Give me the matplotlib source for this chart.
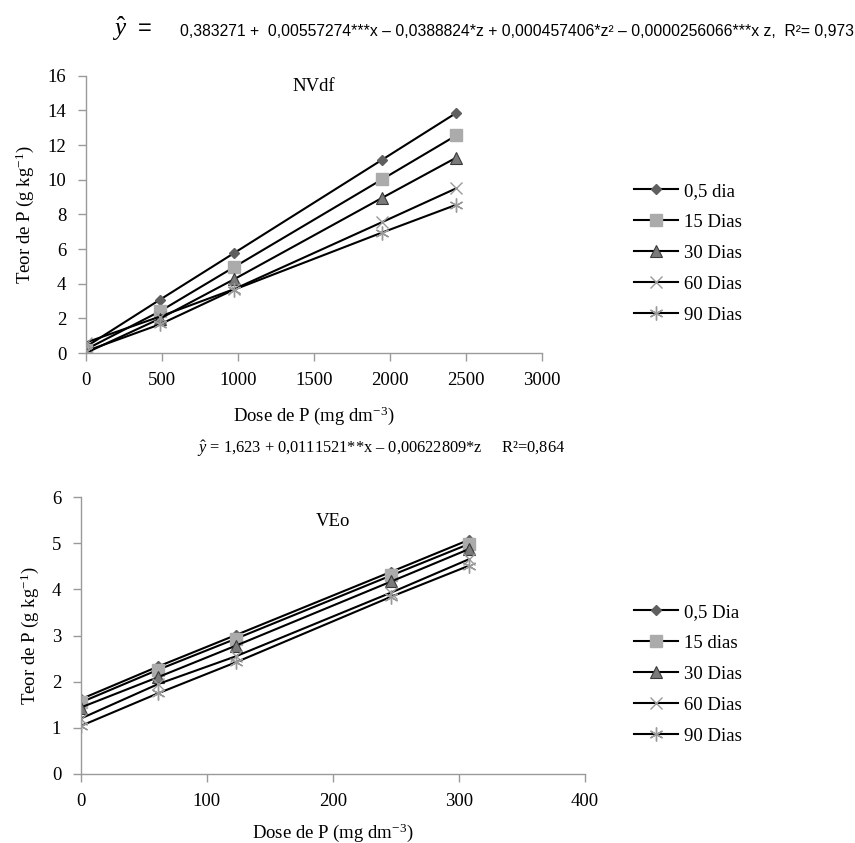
import matplotlib
matplotlib.use("Agg")
import matplotlib.pyplot as plt
from matplotlib.lines import Line2D

plt.rcParams["mathtext.fontset"] = "custom"
plt.rcParams["mathtext.rm"] = "Liberation Serif"
plt.rcParams["mathtext.it"] = "Liberation Serif:italic"
plt.rcParams["mathtext.default"] = "regular"

# ---- data ----
series_top = ["0,5 dia", "15 Dias", "30 Dias", "60 Dias", "90 Dias"]
x_top = [0, 487.5, 975, 1950, 2437.5]
y_top_05 = [0.35, 3.07, 5.76, 11.15, 13.85]
y_top_15 = [0.2, 2.4, 4.95, 10.02, 12.55]
y_top_30 = [0.0, 1.98, 4.25, 8.95, 11.27]
y_top_60 = [0.6, 2.1, 3.68, 7.55, 9.5]
y_top_90 = [0.1, 1.65, 3.65, 6.95, 8.55]

series_bot = ["0,5 Dia", "15 dias", "30 Dias", "60 Dias", "90 Dias"]
x_bot = [0, 61.6, 123.2, 246.4, 308]
y_bot_05 = [1.62, 2.33, 3.01, 4.38, 5.07]
y_bot_15 = [1.55, 2.26, 2.93, 4.3, 4.98]
y_bot_30 = [1.44, 2.1, 2.78, 4.17, 4.87]
y_bot_60 = [1.2, 1.95, 2.55, 3.93, 4.65]
y_bot_90 = [1.04, 1.75, 2.42, 3.84, 4.51]

top_xticks = [0, 500, 1000, 1500, 2000, 2500, 3000]
top_yticks = [0, 2, 4, 6, 8, 10, 12, 14, 16]
bot_xticks = [0, 100, 200, 300, 400]
bot_yticks = [0, 1, 2, 3, 4, 5, 6]

W, H = 855, 843
fig = plt.figure(figsize=(W / 100, H / 100), dpi=100)
serif = "Liberation Serif"

styles = [
    dict(marker="D", ms=5.5, mfc="#5f5f5f", mec="#5f5f5f"),
    dict(marker="s", ms=9, mfc="#ababab", mec="#ababab"),
    dict(marker="^", ms=9, mfc="#7a7a7a", mec="#3a3a3a", mew=0.8),
    dict(marker="x", ms=9, mfc="none", mec="#9a9a9a", mew=1.0),
    dict(marker=(6, 2, 0), ms=10, mfc="none", mec="#9a9a9a", mew=1.0),
]


def make_axes(rect, x, ys, labels, xticks, yticks, title, title_y, leg_y, xlabpad):
    ax = fig.add_axes(rect)
    for y, lab, st in zip(ys, labels, styles):
        ax.plot(x, y, color="black", lw=1.5, label=lab, zorder=2, **st)
    ax.set_xlim(xticks[0], xticks[-1])
    ax.set_ylim(yticks[0], yticks[-1])
    ax.set_xticks(xticks)
    ax.set_yticks(yticks)
    for s in ["top", "right"]:
        ax.spines[s].set_visible(False)
    for s in ["left", "bottom"]:
        ax.spines[s].set_color("#9a9a9a")
        ax.spines[s].set_linewidth(1.0)
    ax.tick_params(direction="out", color="#9a9a9a", length=6, width=1.0,
                   labelsize=13.5, pad=8)
    for t in ax.get_xticklabels() + ax.get_yticklabels():
        t.set_fontfamily(serif)
    ax.set_xlabel("Dose de P (mg dm$^{-3}$)", fontfamily=serif, fontsize=13.5, labelpad=xlabpad)
    ax.set_ylabel("Teor de P (g kg$^{-1}$)", fontfamily=serif, fontsize=13.5, labelpad=8)
    ax.text(0.5, title_y, title, transform=ax.transAxes, ha="center", va="center",
            fontfamily=serif, fontsize=13.5)
    handles = [Line2D([0], [0], color="black", lw=1.5, **st) for st in styles]
    fig.legend(handles, labels, loc="upper left", bbox_to_anchor=(617 / W, leg_y),
               frameon=False, prop={"family": serif, "size": 13.5},
               handlelength=2.35, labelspacing=0.74, handletextpad=0.3)
    return ax


make_axes([85.7 / W, 1 - 353 / H, 456 / W, 277.3 / H], x_top,
          [y_top_05, y_top_15, y_top_30, y_top_60, y_top_90], series_top,
          top_xticks, top_yticks, "NVdf", 0.96, 1 - 166 / H, 11)
make_axes([80.7 / W, 1 - 774 / H, 504 / W, 277 / H], x_bot,
          [y_bot_05, y_bot_15, y_bot_30, y_bot_60, y_bot_90], series_bot,
          bot_xticks, bot_yticks, "VEo", 0.91, 1 - 587 / H, 8)

# equations
fig.text(112 / W, 1 - 29 / H, r"$\hat{\mathit{y}}$", fontfamily=serif, fontsize=18, va="center")
fig.text(138 / W, 1 - 29 / H, "=", fontfamily="Liberation Sans", fontsize=17, va="center")
fig.text(180 / W, 1 - 31 / H,
         "0,383271 +  0,00557274***x \u2013 0,0388824*z + 0,000457406*z\u00b2 \u2013 "
         "0,0000256066***x z,  R\u00b2= 0,973",
         fontfamily="Liberation Sans", fontsize=11.35, va="center")
fig.text(197 / W, 1 - 449 / H,
         "$\\hat{\\mathit{y}}$ = 1,623 + 0,0111521**x \u2013 0,00622809*z     R\u00b2=0,864",
         fontfamily=serif, fontsize=11.8, va="center")

fig.savefig("out.png", dpi=100)
